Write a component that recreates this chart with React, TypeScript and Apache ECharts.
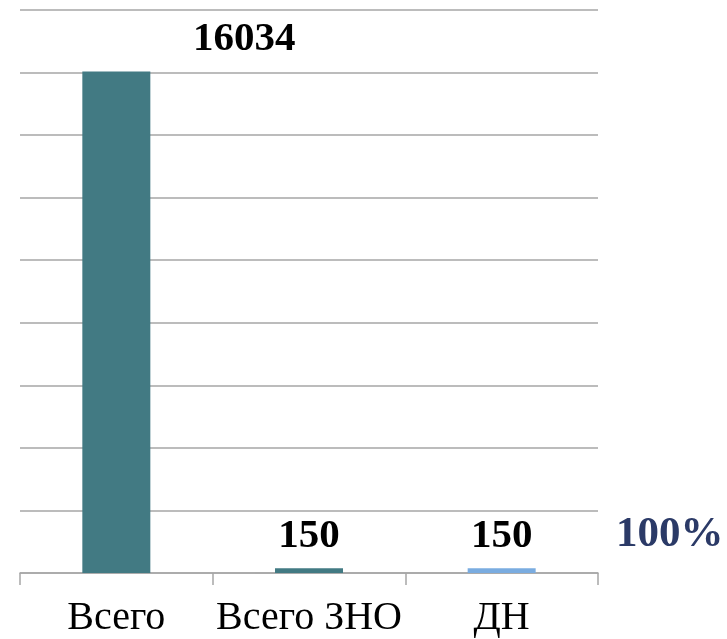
import React, { useEffect, useRef } from "react";
import * as echarts from "echarts";

const categories = ["Всего", "Всего ЗНО", "ДН"];
const values = [16034, 150, 150];
const barColors = ["#427A83", "#427A83", "#7AACE0"];
const labelOffsets = [[128, 0], [0, 0], [0, 0]];
const sideNote = "100%";

export default function App() {
  const ref = useRef<HTMLDivElement>(null);
  useEffect(() => {
    const chart = echarts.init(ref.current!, null, { renderer: "svg" });
    chart.setOption({
      animation: false,
      grid: { left: 20, right: 129, top: 10, bottom: 66 },
      xAxis: {
        type: "category",
        data: categories,
        axisLine: { lineStyle: { color: "#a6a6a6", width: 1.5 } },
        axisTick: { show: true, length: 12, lineStyle: { color: "#a6a6a6", width: 1.5 } },
        axisLabel: {
          interval: 0,
          color: "#000",
          fontFamily: "Liberation Serif",
          fontSize: 40,
          lineHeight: 40,
          margin: 22,
        },
      },
      yAxis: {
        type: "value",
        min: 0,
        max: 18000,
        interval: 2000,
        axisLabel: { show: false },
        axisLine: { show: false },
        axisTick: { show: false },
        splitLine: { lineStyle: { color: "#a6a6a6", width: 1.5 } },
      },
      series: [
        {
          type: "bar",
          barWidth: 68,
          data: values.map((v, i) => ({
            value: v,
            itemStyle: { color: barColors[i] },
            label: { offset: labelOffsets[i] },
          })),
          label: {
            show: true,
            position: "top",
            distance: 15,
            color: "#000",
            fontFamily: "Liberation Serif",
            fontWeight: "bold",
            fontSize: 41,
          },
        },
      ],
      graphic: [
        {
          type: "text",
          left: 616,
          top: 510,
          style: {
            text: sideNote,
            fill: "#2B3A67",
            font: "bold 43px 'Liberation Serif'",
          },
        },
      ],
    });
    return () => chart.dispose();
  }, []);
  return <div ref={ref} style={{ position: "fixed", left: 0, top: 0, width: 727, height: 639 }} />;
}
